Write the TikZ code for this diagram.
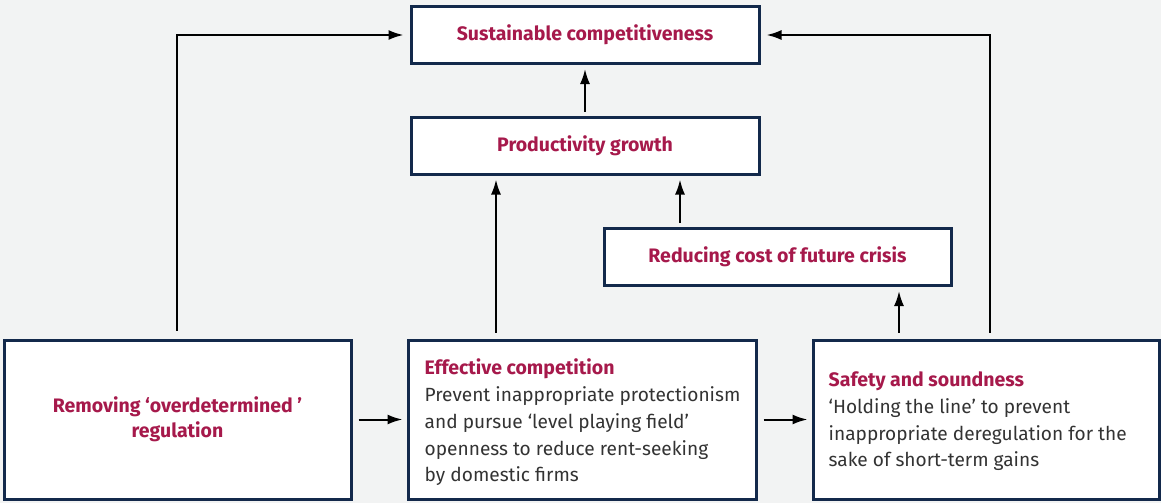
\documentclass[tikz,border=0pt]{standalone}
\usepackage{fontspec}
\setmainfont{Fira Sans}
\usetikzlibrary{arrows.meta}
\definecolor{bgc}{HTML}{F2F3F3}
\definecolor{navy}{HTML}{13294B}
\definecolor{crim}{HTML}{A6194B}
\definecolor{bodyc}{HTML}{333333}
\begin{document}
\begin{tikzpicture}[x=1pt,y=-1pt,
  box/.style={draw=navy,line width=3pt,fill=white,inner sep=0pt,minimum height=57pt},
  ttl/.style={text=crim,font=\fontsize{19.5}{25}\selectfont\bfseries},
  txt/.style={text=bodyc,font=\fontsize{19.1}{26.7}\selectfont,align=left,anchor=west,inner sep=0pt},
  arr/.style={line width=2pt,-{Latex[length=15pt,width=10pt]}}]
\fill[bgc] (0,0) rectangle (1161,503);
\useasboundingbox (0,0) rectangle (1161,503);
\node[box,minimum width=348pt,ttl] (sus) at (585,35) {Sustainable competitiveness};
\node[box,minimum width=348pt,ttl] (prod) at (585,145.5) {Productivity growth};
\node[box,minimum width=347pt,ttl] (red) at (777.5,257) {Reducing cost of future crisis};
\node[box,minimum width=347pt,minimum height=159pt,ttl,align=center] (rem) at (177.5,419.5) {Removing ‘overdetermined ’\\regulation};
\node[box,minimum width=348pt,minimum height=159pt] (eff) at (582,419.5) {};
\node[box,minimum width=346pt,minimum height=159pt] (saf) at (986,419.5) {};
\node[txt] (efft) at ([xshift=18pt,yshift=-3pt]eff.west) {{\color{crim}\fontsize{19.5}{26.7}\selectfont\bfseries Effective competition}\\Prevent inappropriate protectionism\\and pursue ‘level playing field’\\openness to reduce rent-seeking\\by domestic firms};
\node[txt] (saft) at ([xshift=17pt,yshift=-2pt]saf.west) {{\color{crim}\fontsize{19.5}{26.7}\selectfont\bfseries Safety and soundness}\\‘Holding the line’ to prevent\\inappropriate deregulation for the\\sake of short-term gains};
\coordinate (xa) at (496,0);
\coordinate (xb) at (899,0);
\coordinate (xc) at (680,0);
\coordinate (xl) at (177,0);
\coordinate (xr) at (990,0);
\draw[arr,shorten <=6pt,shorten >=4pt] (rem.east) -- (eff.west);
\draw[arr,shorten <=6pt,shorten >=4pt] (eff.east) -- (saf.west);
\draw[arr,shorten <=6pt,shorten >=4pt] (eff.north -| xa) -- (prod.south -| xa);
\draw[arr,shorten <=6pt,shorten >=4pt] (saf.north -| xb) -- (red.south -| xb);
\draw[arr,shorten <=4pt,shorten >=4pt] (red.north -| xc) -- (prod.south -| xc);
\draw[arr,shorten <=4pt,shorten >=4pt] (prod.north) -- (sus.south);
\draw[arr,shorten <=8pt,shorten >=6pt] (rem.north -| xl) -- (sus.west -| xl) -- (sus.west);
\draw[arr,shorten <=6pt,shorten >=6pt] (saf.north -| xr) -- (sus.east -| xr) -- (sus.east);
\end{tikzpicture}
\end{document}
